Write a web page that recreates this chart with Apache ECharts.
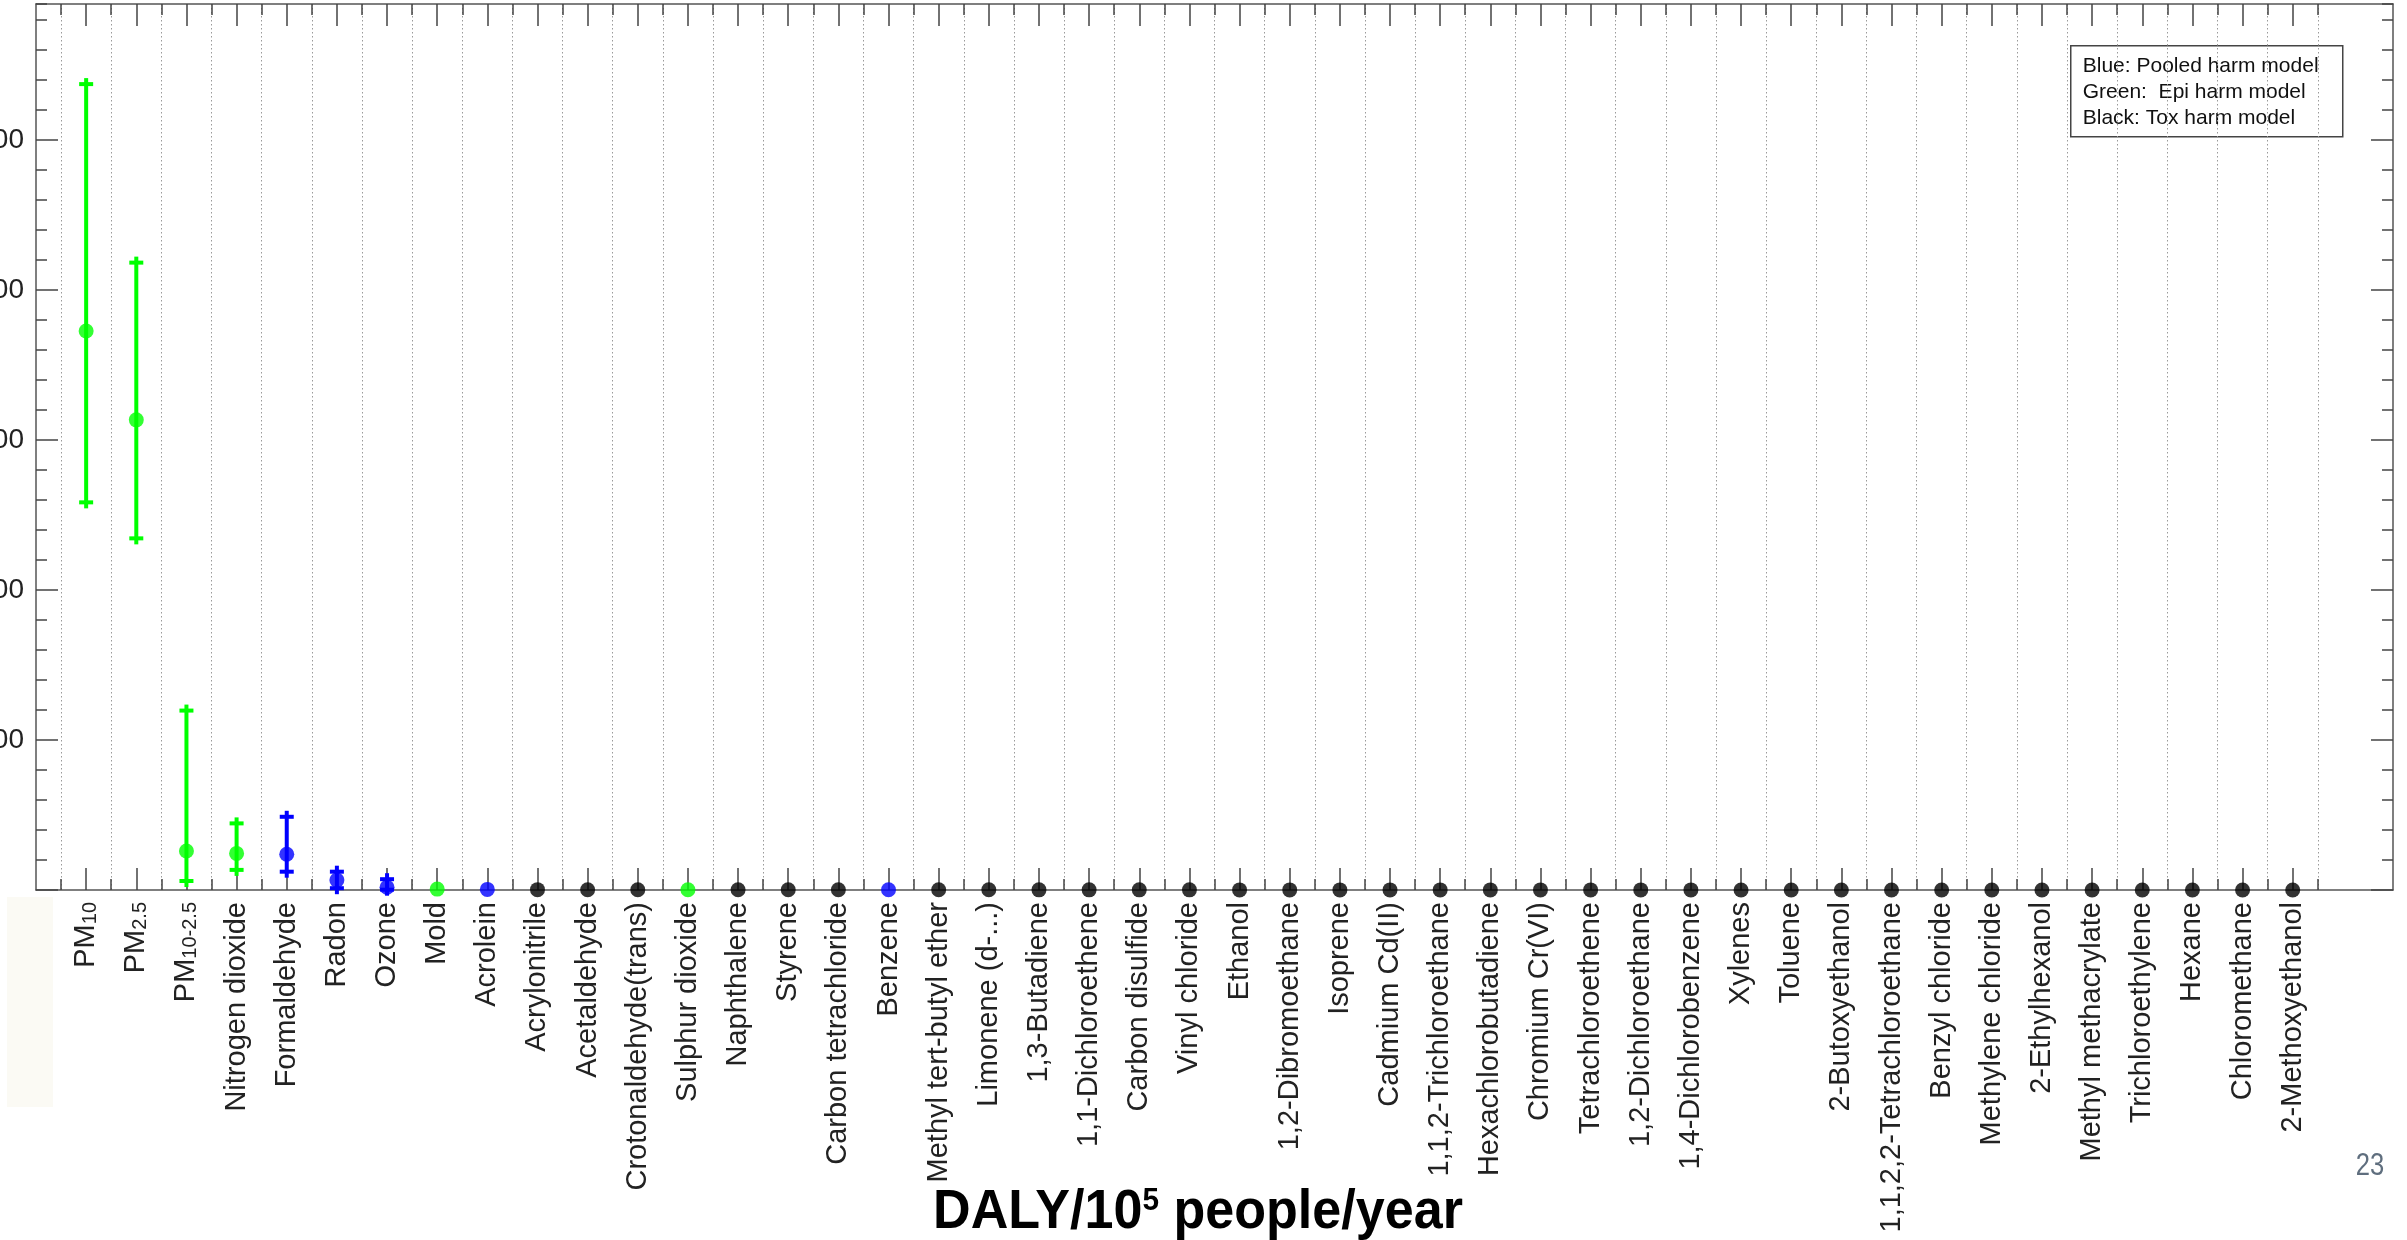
<!DOCTYPE html>
<html>
<head>
<meta charset="utf-8">
<title>Chronic harm of residential indoor air contaminants</title>
<script src="https://cdn.jsdelivr.net/npm/echarts@6/dist/echarts.min.js"></script>
<style>
  html, body { margin: 0; padding: 0; background: #ffffff; }
  #chart { width: 2407px; height: 1240px; }
</style>
</head>
<body>
<div id="chart"></div>
<script>
// Contaminants, ordered by median harm
const contaminants = [
  'PM10', 'PM2.5', 'PM10-2.5', 'Nitrogen dioxide', 'Formaldehyde', 'Radon', 'Ozone', 'Mold',
  'Acrolein', 'Acrylonitrile', 'Acetaldehyde', 'Crotonaldehyde(trans)', 'Sulphur dioxide',
  'Naphthalene', 'Styrene', 'Carbon tetrachloride', 'Benzene', 'Methyl tert-butyl ether',
  'Limonene (d-...)', '1,3-Butadiene', '1,1-Dichloroethene', 'Carbon disulfide', 'Vinyl chloride',
  'Ethanol', '1,2-Dibromoethane', 'Isoprene', 'Cadmium Cd(II)', '1,1,2-Trichloroethane',
  'Hexachlorobutadiene', 'Chromium Cr(VI)', 'Tetrachloroethene', '1,2-Dichloroethane',
  '1,4-Dichlorobenzene', 'Xylenes', 'Toluene', '2-Butoxyethanol', '1,1,2,2-Tetrachloroethane',
  'Benzyl chloride', 'Methylene chloride', '2-Ethylhexanol', 'Methyl methacrylate',
  'Trichloroethylene', 'Hexane', 'Chloromethane', '2-Methoxyethanol'
];

// Median DALY/10^5 people/year
const medianDaly = [
  1863, 1567, 130, 122, 119, 33, 9, 3,
  2, 1.2, 1.0, 0.9, 1.0,
  0.8, 0.7, 0.7, 1.0, 0.6,
  0.6, 0.5, 0.5, 0.5, 0.5,
  0.4, 0.4, 0.4, 0.4, 0.3,
  0.3, 0.3, 0.3, 0.3,
  0.3, 0.2, 0.2, 0.2, 0.2,
  0.2, 0.2, 0.1, 0.1,
  0.1, 0.1, 0.1, 0.1
];

// Uncertainty bounds (null where no range is drawn)
const lowerDaly = [1292, 1172, 30, 67, 61, 6, 1, null, null, null, null, null, null,
  null, null, null, null, null, null, null, null, null, null, null, null, null, null, null,
  null, null, null, null, null, null, null, null, null, null, null, null, null, null, null, null, null];
const upperDaly = [2686, 2091, 598, 222, 244, 61, 36, null, null, null, null, null, null,
  null, null, null, null, null, null, null, null, null, null, null, null, null, null, null,
  null, null, null, null, null, null, null, null, null, null, null, null, null, null, null, null, null];

// Harm model behind each estimate
const harmModel = [
  'epi', 'epi', 'epi', 'epi', 'pooled', 'pooled', 'pooled', 'epi',
  'pooled', 'tox', 'tox', 'tox', 'epi',
  'tox', 'tox', 'tox', 'pooled', 'tox',
  'tox', 'tox', 'tox', 'tox', 'tox',
  'tox', 'tox', 'tox', 'tox', 'tox',
  'tox', 'tox', 'tox', 'tox',
  'tox', 'tox', 'tox', 'tox', 'tox',
  'tox', 'tox', 'tox', 'tox',
  'tox', 'tox', 'tox', 'tox'
];

const yTickLabels = [500, 1000, 1500, 2000, 2500];
const legendLines = ['Blue: Pooled harm model', 'Green:  Epi harm model', 'Black: Tox harm model'];
const axisTitle = 'DALY/10{sup|5} people/year';
const pageNumber = '23';

const modelColours = { pooled: '#0000ff', epi: '#00ff00', tox: '#000000' };
const FONT = '"Liberation Sans", Arial, Helvetica, sans-serif';
const LABEL_SIZE = 29;
const X_MAX = contaminants.length + 2;
const Y_MAX = 2953;
const frameColour = '#555555';

// tick positions: one per contaminant, and dotted separators half-way between
const majorX = contaminants.map((_, i) => i + 1);
const minorX = [0].concat(majorX).map(v => v + 0.5);
const majorY = [0].concat(yTickLabels);

function xLabel(value) {
  const name = contaminants[Math.round(value) - 1];
  if (!name) return '';
  const pm = /^PM(.+)$/.exec(name);
  return pm ? '{pm|PM}{sub|' + pm[1] + '}' : '{n|' + name + '}';
}

const errorBars = [];
const errorColours = [];
contaminants.forEach((name, i) => {
  if (lowerDaly[i] != null) {
    errorBars.push([i + 1, lowerDaly[i], upperDaly[i]]);
    errorColours.push(modelColours[harmModel[i]]);
  }
});

const points = contaminants.map((name, i) => ({
  value: [i + 1, medianDaly[i]],
  itemStyle: { color: modelColours[harmModel[i]] }
}));

function xAxisBase(position, ticks, len) {
  return {
    type: 'value', min: 0, max: X_MAX, position: position,
    axisLine: { show: true, onZero: false, lineStyle: { color: frameColour, width: 1.5 } },
    axisTick: { show: true, inside: true, length: len, customValues: ticks,
      lineStyle: { color: '#444', width: 1.5 } },
    axisLabel: { show: false },
    splitLine: { show: false }
  };
}

function yAxisBase(position, len, extra) {
  return Object.assign({
    type: 'value', min: 0, max: Y_MAX, position: position,
    axisLine: { show: true, onZero: false, lineStyle: { color: frameColour, width: 1.5 } },
    axisTick: { show: true, inside: true, length: len, lineStyle: { color: '#444', width: 1.5 } },
    axisLabel: { show: false },
    splitLine: { show: false }
  }, extra || {});
}

const labelStyle = { fontSize: LABEL_SIZE, fontFamily: FONT, color: '#222' };

const bottomMajor = xAxisBase('bottom', majorX, 22);
bottomMajor.axisLabel = Object.assign({
  show: true, customValues: majorX, rotate: 90, margin: 12,
  formatter: xLabel,
  rich: {
    n: Object.assign({ lineHeight: 32 }, labelStyle),
    pm: Object.assign({ lineHeight: 29, verticalAlign: 'top' }, labelStyle),
    sub: Object.assign({}, labelStyle, { fontSize: 20, lineHeight: 20, padding: [17, 0, 0, 0], verticalAlign: 'bottom' })
  }
}, labelStyle);
const bottomMinor = xAxisBase('bottom', minorX, 11);
bottomMinor.axisLine.show = false;
bottomMinor.splitLine = { show: true, lineStyle: { color: '#9a9a9a', width: 1, type: [1.5, 2.5] } };
const topMajor = xAxisBase('top', majorX, 22);
const topMinor = xAxisBase('top', minorX, 11);
topMinor.axisLine.show = false;

const leftMajor = yAxisBase('left', 22);
leftMajor.axisTick.customValues = majorY;
leftMajor.axisLabel = Object.assign({ show: true, customValues: yTickLabels, margin: 12,
  formatter: v => String(v) }, labelStyle, { fontSize: 28 });
const leftMinor = yAxisBase('left', 11, { interval: 100 });
leftMinor.axisLine.show = false;
const rightMajor = yAxisBase('right', 22);
rightMajor.axisTick.customValues = majorY;
const rightMinor = yAxisBase('right', 11, { interval: 100 });
rightMinor.axisLine.show = false;

const chart = echarts.init(document.getElementById('chart'), null, { renderer: 'canvas' });

chart.setOption({
  animation: false,
  backgroundColor: '#ffffff',
  grid: { left: 36, right: 14, top: 4, bottom: 350, containLabel: false, outerBoundsMode: 'none' },
  xAxis: [bottomMajor, bottomMinor, topMajor, topMinor],
  yAxis: [leftMajor, leftMinor, rightMajor, rightMinor],
  series: [
    {
      type: 'custom',
      xAxisIndex: 0, yAxisIndex: 0,
      clip: false,
      z: 3,
      data: errorBars,
      encode: { x: 0, y: [1, 2] },
      renderItem: function (params, api) {
        const x = api.value(0);
        const lo = api.coord([x, api.value(1)]);
        const hi = api.coord([x, api.value(2)]);
        const c = errorColours[params.dataIndex];
        const st = { stroke: c, lineWidth: 4, lineCap: 'butt' };
        const capW = 7, stub = 6;
        return {
          type: 'group',
          children: [
            { type: 'line', shape: { x1: lo[0], y1: lo[1], x2: hi[0], y2: hi[1] }, style: st },
            { type: 'line', shape: { x1: hi[0] - capW, y1: hi[1], x2: hi[0] + capW, y2: hi[1] }, style: st },
            { type: 'line', shape: { x1: hi[0], y1: hi[1] - stub, x2: hi[0], y2: hi[1] }, style: st },
            { type: 'line', shape: { x1: lo[0] - capW, y1: lo[1], x2: lo[0] + capW, y2: lo[1] }, style: st },
            { type: 'line', shape: { x1: lo[0], y1: lo[1], x2: lo[0], y2: lo[1] + stub }, style: st }
          ]
        };
      }
    },
    {
      type: 'scatter',
      xAxisIndex: 0, yAxisIndex: 0,
      clip: false,
      z: 4,
      symbol: 'circle',
      symbolSize: 15,
      data: points
    }
  ],
  graphic: [
    {
      type: 'rect', left: 7, top: 897, z: -10, silent: true,
      shape: { width: 46, height: 210 },
      style: { fill: '#fbfaf4' }
    },
    {
      type: 'group', left: 2070, top: 45, z: 100,
      children: [
        { type: 'rect', shape: { x: 0, y: 0, width: 272, height: 91 },
          style: { fill: '#ffffff', stroke: '#444', lineWidth: 1.5 } }
      ].concat(legendLines.map((t, i) => ({
        type: 'text', x: 12, y: 20 + i * 26,
        style: { text: t, font: '21px ' + FONT, fill: '#111', verticalAlign: 'middle' }
      })))
    },
    {
      type: 'group', x: 1198, y: 1213, scaleX: 0.93, z: 100,
      children: [{
        type: 'text', x: 0, y: 0,
        style: {
          text: axisTitle, font: 'bold 56px ' + FONT, fill: '#000',
          align: 'center', verticalAlign: 'middle',
          rich: { sup: { fontSize: 32, fontWeight: 'bold', fontFamily: FONT, verticalAlign: 'top', fill: '#000' } }
        }
      }]
    },
    {
      type: 'group', x: 2370, y: 1166, scaleX: 0.8, z: 100,
      children: [{
        type: 'text', x: 0, y: 0,
        style: { text: pageNumber, font: '32px ' + FONT, fill: '#5f6e7e', align: 'center', verticalAlign: 'middle' }
      }]
    }
  ]
});
</script>
</body>
</html>
